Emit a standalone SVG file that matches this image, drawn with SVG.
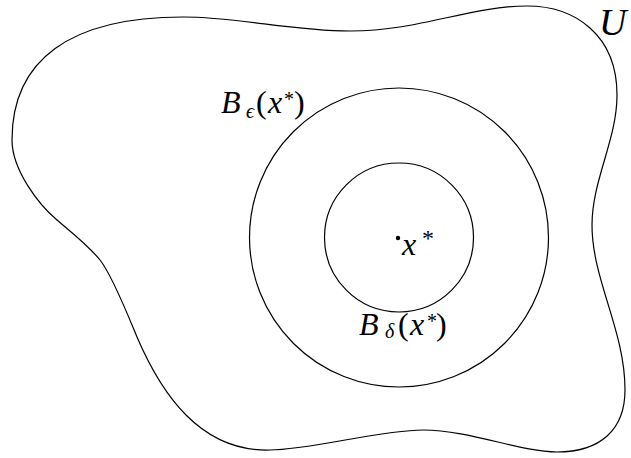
<svg xmlns="http://www.w3.org/2000/svg" width="631" height="458" viewBox="0 0 631 458">
<style>
.ln{fill:none;stroke:#000;stroke-width:1.2}
text{font-family:"Liberation Serif","DejaVu Serif",serif;fill:#000}
.m{font-size:32px}
.i{font-style:italic}
.s{font-size:20px}
</style>
<rect width="631" height="458" fill="#fff"/>
<g id="set-U">
<path class="ln" d="M183,17 C240,17 290,31 350,31 C420,31 470,6 527,6 C575,6 617,35 617,95 C617,140 592,180 592,225 C592,280 625,330 625,390 C625,430 600,452 557,452 C520,452 470,430 423,430 C380,430 310,450 270,450 C200,452 161,393 137,337 C127,313 112,275 100,260 C88,245 71,232 57,220 C39,205 12,170 12,140 C12,60 70,17 183,17 Z"/>
<text class="i" x="599" y="35" font-size="38">U</text>
</g>
<g id="ball-eps">
<circle class="ln" cx="399" cy="237.5" r="149.5"/>
<text class="m"><tspan class="i" x="221" y="113">B</tspan><tspan class="i s" x="246" y="118">ϵ</tspan><tspan x="256" y="113">(</tspan><tspan class="i" x="268" y="113">x</tspan><tspan class="s" x="284" y="106">*</tspan><tspan x="294" y="113">)</tspan></text>
</g>
<g id="ball-delta">
<circle class="ln" cx="399" cy="237.5" r="74.5"/>
<text class="m"><tspan class="i" x="359" y="335">B</tspan><tspan class="i s" x="385" y="338">δ</tspan><tspan x="398" y="335">(</tspan><tspan class="i" x="410" y="335">x</tspan><tspan class="s" x="427" y="328">*</tspan><tspan x="436" y="335">)</tspan></text>
</g>
<g id="point-x">
<circle cx="398" cy="238" r="2.2" fill="#000"/>
<text class="m"><tspan class="i" x="402" y="255">x</tspan><tspan x="422" y="246" font-size="24">*</tspan></text>
</g>
</svg>
